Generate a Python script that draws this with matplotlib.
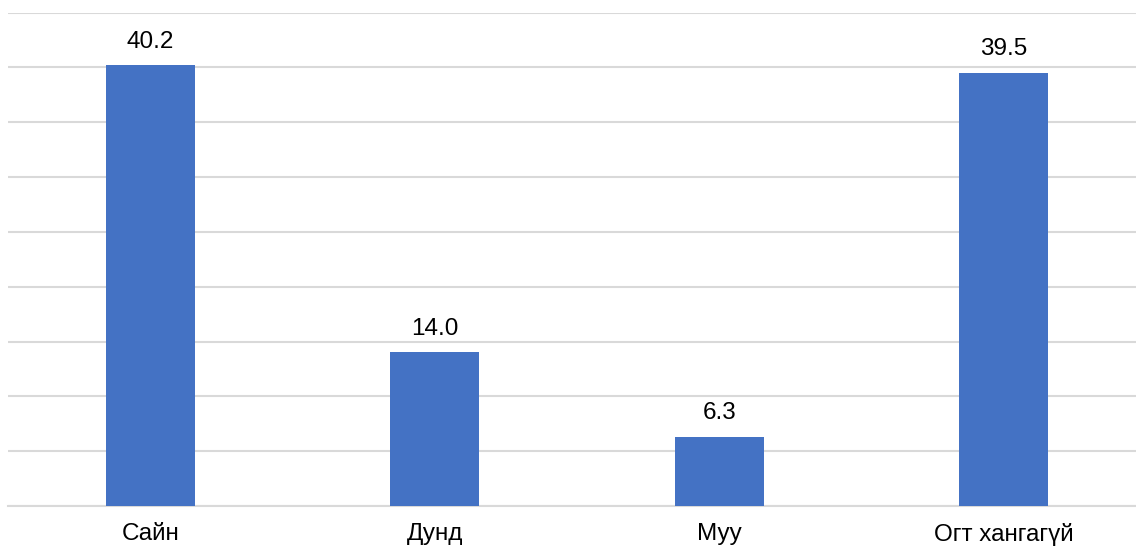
import matplotlib.pyplot as plt
import numpy as np

categories = ['Сайн', 'Дунд', 'Муу', 'Огт хангагүй']
values = [40.2, 14.0, 6.3, 39.5]
y_ticks = np.arange(0, 50, 5)

plt.rcParams['font.family'] = ['Liberation Sans', 'DejaVu Sans']

fig = plt.figure(figsize=(11.36, 5.46), dpi=100)
ax = fig.add_axes([8 / 1136, 40 / 546, 1138 / 1136, 493.5 / 546])

x = np.arange(len(categories))
bars = ax.bar(x, values, width=0.313, color='#4472C4', zorder=3)

for xi, v in zip(x, values):
    ax.annotate(f'{v:.1f}', (xi, v), xytext=(0, 9), textcoords='offset points',
                ha='center', va='bottom', fontsize=17.5, color='black')

ax.set_xlim(-0.5, len(categories) - 0.5)
ax.set_ylim(0, 45)
ax.set_yticks(y_ticks)
ax.yaxis.grid(True, color='#D9D9D9', linewidth=1.5, zorder=0)
ax.tick_params(axis='y', left=False, labelleft=False)
ax.set_xticks(x)
ax.set_xticklabels(categories, fontsize=17.5)
ax.tick_params(axis='x', bottom=False, pad=9)
for s in ['top', 'right', 'left']:
    ax.spines[s].set_visible(False)
ax.spines['bottom'].set_color('#D9D9D9')
ax.spines['bottom'].set_linewidth(1.5)

fig.savefig('out.png', dpi=100)
